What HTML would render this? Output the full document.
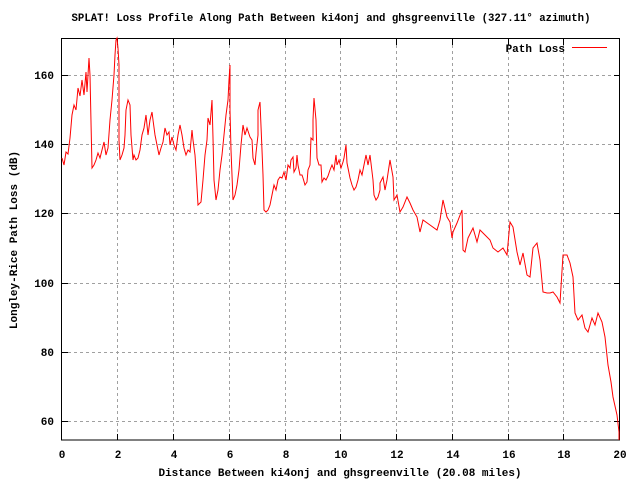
<!DOCTYPE html>
<html><head><meta charset="utf-8"><style>
html,body{margin:0;padding:0;background:#fff;}
svg text{font-family:"Liberation Mono",monospace;font-size:11px;font-weight:bold;fill:#000;}
</style></head><body>
<svg width="640" height="480" viewBox="0 0 640 480" xmlns="http://www.w3.org/2000/svg">
<rect width="640" height="480" fill="#fff"/>
<g stroke="#a0a0a0" stroke-width="1" stroke-dasharray="3,3" fill="none" shape-rendering="crispEdges">
<line x1="62" y1="75.5" x2="620" y2="75.5"/><line x1="62" y1="144.5" x2="620" y2="144.5"/><line x1="62" y1="213.5" x2="620" y2="213.5"/><line x1="62" y1="283.5" x2="620" y2="283.5"/><line x1="62" y1="352.5" x2="620" y2="352.5"/><line x1="62" y1="421.5" x2="620" y2="421.5"/>
<line x1="117.5" y1="39" x2="117.5" y2="440"/><line x1="173.5" y1="39" x2="173.5" y2="440"/><line x1="229.5" y1="39" x2="229.5" y2="440"/><line x1="285.5" y1="39" x2="285.5" y2="440"/><line x1="340.5" y1="39" x2="340.5" y2="440"/><line x1="396.5" y1="39" x2="396.5" y2="440"/><line x1="452.5" y1="39" x2="452.5" y2="440"/><line x1="508.5" y1="39" x2="508.5" y2="440"/><line x1="563.5" y1="39" x2="563.5" y2="440"/>
</g>
<g stroke="#000" stroke-width="1" fill="none" shape-rendering="crispEdges">
<rect x="61.5" y="38.5" width="558" height="401.5"/>
<path d="M62 75.5h6M614 75.5h6M62 144.5h6M614 144.5h6M62 213.5h6M614 213.5h6M62 283.5h6M614 283.5h6M62 352.5h6M614 352.5h6M62 421.5h6M614 421.5h6"/>
<path d="M61.5 440v-6M117.5 440v-6M173.5 440v-6M229.5 440v-6M285.5 440v-6M340.5 440v-6M396.5 440v-6M452.5 440v-6M508.5 440v-6M563.5 440v-6M619.5 440v-6M117.5 39v6M173.5 39v6M229.5 39v6M285.5 39v6M340.5 39v6M396.5 39v6M452.5 39v6M508.5 39v6M563.5 39v6"/>
</g>
<g text-anchor="end">
<text x="54" y="79">160</text><text x="54" y="148">140</text><text x="54" y="217">120</text><text x="54" y="287">100</text><text x="54" y="356">80</text><text x="54" y="425">60</text>
</g>
<g text-anchor="middle">
<text x="62" y="458">0</text><text x="118" y="458">2</text><text x="174" y="458">4</text><text x="230" y="458">6</text><text x="286" y="458">8</text><text x="341" y="458">10</text><text x="397" y="458">12</text><text x="453" y="458">14</text><text x="509" y="458">16</text><text x="564" y="458">18</text><text x="620" y="458">20</text>
<text x="331" y="21" textLength="519" lengthAdjust="spacingAndGlyphs">SPLAT! Loss Profile Along Path Between ki4onj and ghsgreenville (327.11° azimuth)</text>
<text x="340" y="476">Distance Between ki4onj and ghsgreenville (20.08 miles)</text>
<text transform="translate(17,240) rotate(-90)">Longley-Rice Path Loss (dB)</text>
</g>
<text x="565" y="52" text-anchor="end">Path Loss</text>
<line x1="572" y1="47.5" x2="607" y2="47.5" stroke="#f00" stroke-width="1" shape-rendering="crispEdges"/>
<polyline fill="none" stroke="#f00" stroke-width="1" points="62,158 64,165 66,152 68,154 70,138 72,115 74,105 76,110 78,88 80,96 82,80 84,95 86,72 87,92 89,58 90,75 91,122 92,168 94,165 96,160 98,153 100,158 102,150 104,142 106,155 108,148 110,120 112,100 114,75 115,55 116,40 117,38 118,48 119,65 119,140 120,160 122,155 124,148 125,135 126,110 128,100 130,105 131,135 133,160 134,155 136,160 138,158 140,150 142,135 144,128 146,115 148,135 150,120 152,112 153,120 155,135 157,145 159,155 161,148 163,142 165,128 167,135 169,132 170,145 172,137 174,145 176,150 178,135 180,125 182,135 184,148 186,155 188,150 190,152 192,130 193,140 195,155 196,170 198,205 201,202 203,180 205,155 207,140 208,118 210,125 212,100 213,138 214,180 216,200 218,190 220,170 222,155 224,135 226,115 228,100 229,80 230,65 230,110 231,150 233,200 235,195 237,185 239,170 241,145 243,125 245,135 247,128 250,137 252,140 253,158 255,165 256,153 258,135 258,110 260,102 262,150 263,175 264,210 266,212 268,210 270,205 272,195 274,185 276,190 278,180 280,177 282,178 284,172 286,180 288,165 290,168 291,160 293,157 294,172 296,168 297,155 298,165 300,175 302,175 303,178 305,185 307,182 308,170 310,165 311,138 313,140 313,120 314,98 316,120 317,158 319,165 321,165 322,182 324,178 326,180 328,176 330,170 332,165 334,170 336,155 337,165 339,160 341,168 343,162 344,158 346,145 347,163 350,178 352,185 354,190 356,187 358,180 360,170 362,175 364,165 366,155 368,165 370,155 373,180 374,195 376,200 378,197 380,190 380,183 383,177 385,190 387,180 390,160 393,177 394,200 397,195 400,212 403,207 407,197 410,203 413,210 417,217 420,232 423,220 430,225 437,230 440,220 443,200 447,217 450,222 452,238 453,232 457,223 462,210 463,250 465,252 468,238 473,228 477,242 480,230 485,235 490,240 493,248 498,252 503,248 507,255 510,222 513,227 517,252 520,265 523,253 527,275 530,277 533,248 537,243 540,260 543,292 547,293 550,293 553,292 557,297 560,303 563,255 567,255 570,263 573,277 575,313 578,320 582,315 585,328 588,332 592,318 595,325 598,313 602,322 605,337 608,365 611,382 613,397 617,415 619,432 619,440"/>
</svg>
</body></html>
